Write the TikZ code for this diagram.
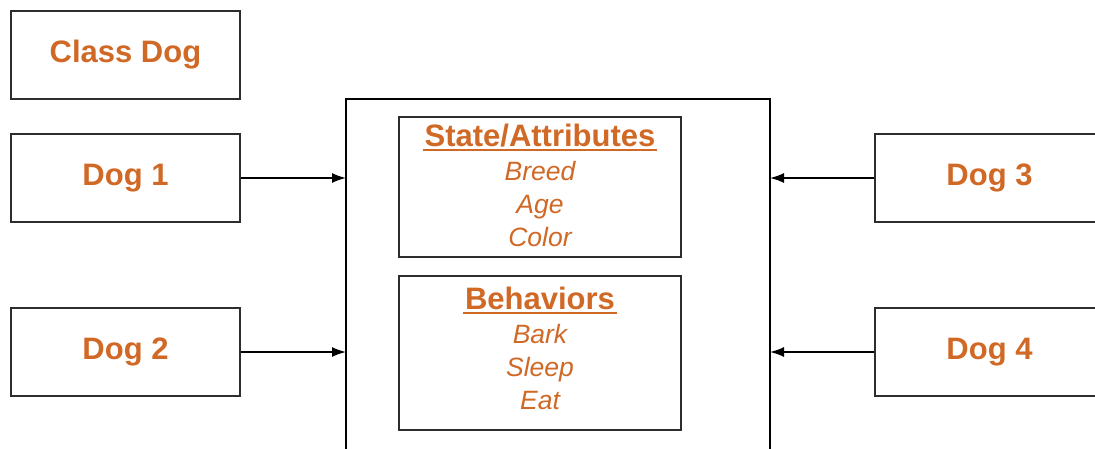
\documentclass[tikz,border=0pt]{standalone}
\usepackage{fontspec}
\setmainfont{Liberation Sans}
\usetikzlibrary{arrows.meta}
\definecolor{dogorange}{RGB}{209,105,38}
\definecolor{edgegray}{RGB}{45,45,45}
\begin{document}
\begin{tikzpicture}[x=1pt,y=-1pt,
  dogbox/.style={draw=edgegray, line width=2pt, minimum width=229pt, minimum height=88pt,
    inner sep=0pt, text=dogorange, font=\bfseries\fontsize{31}{37}\selectfont},
  classbox/.style={draw=black, line width=1.5pt, outer sep=0pt, inner sep=0pt},
  partbox/.style={draw=edgegray, line width=2pt, inner sep=0pt},
  parttitle/.style={anchor=base, inner xsep=1.5pt, inner ysep=2pt, text=dogorange,
    font=\bfseries\fontsize{31}{37}\selectfont},
  partitem/.style={anchor=base, inner sep=0pt, text=dogorange,
    font=\itshape\fontsize{26.5}{33}\selectfont},
  conn/.style={draw=black, line width=1.6pt, -{Latex[length=14pt,width=10pt]}},
  underl/.style={draw=dogorange, line width=2.2pt}]
  \clip (0,0) rectangle (1095,448);
  \fill[white] (0,0) rectangle (1095,448);

  % object boxes
  \node[dogbox] (classdog) at (125.5,55) {Class Dog};
  \node[dogbox] (dog1) at (125.5,178) {Dog 1};
  \node[dogbox] (dog2) at (125.5,352) {Dog 2};
  \node[dogbox] (dog3) at (989.5,178) {Dog 3};
  \node[dogbox] (dog4) at (989.5,352) {Dog 4};

  % class body, running off the lower edge
  \node[classbox, minimum width=424pt, minimum height=380pt] (main) at (558,289) {};

  % state / attributes section
  \node[partbox, minimum width=282pt, minimum height=140pt] (statebox) at (540,187) {};
  \node[parttitle] (stitle) at (540,146.7) {State/Attributes};
  \draw[underl] ([yshift=-3.6pt]stitle.base west) -- ([yshift=-3.6pt]stitle.base east);
  \node[partitem] (breed) at (540,180.7) {Breed};
  \node[partitem] (age) at (540,213.7) {Age};
  \node[partitem] (color) at (540,246.7) {Color};

  % behaviors section
  \node[partbox, minimum width=282pt, minimum height=154pt] (behavbox) at (540,353) {};
  \node[parttitle] (btitle) at (540,309.3) {Behaviors};
  \draw[underl] ([yshift=-3.6pt]btitle.base west) -- ([yshift=-3.6pt]btitle.base east);
  \node[partitem] (bark) at (540,343.3) {Bark};
  \node[partitem] (sleep) at (540,376.3) {Sleep};
  \node[partitem] (eat) at (540,409.3) {Eat};

  % connectors into the class body
  \draw[conn] (dog1.east) -- (dog1.east -| main.west);
  \draw[conn] (dog2.east) -- (dog2.east -| main.west);
  \draw[conn] (dog3.west) -- (dog3.west -| main.east);
  \draw[conn] (dog4.west) -- (dog4.west -| main.east);
\end{tikzpicture}
\end{document}
